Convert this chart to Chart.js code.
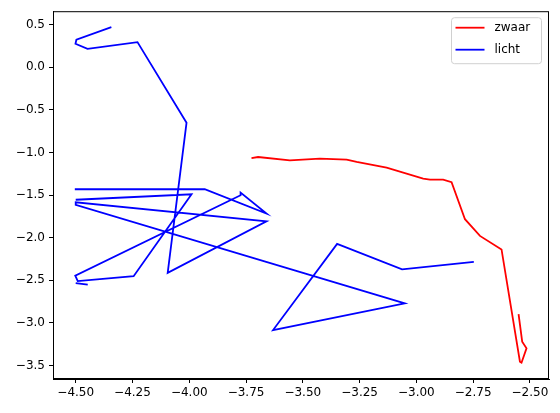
<!DOCTYPE html>
<html>
<head>
<meta charset="utf-8">
<script src="https://cdn.jsdelivr.net/npm/chart.js@4.4.1/dist/chart.umd.min.js"></script>
<style>
  html, body { margin: 0; padding: 0; background: #fff; }
  #wrap { width: 560px; height: 413px; }
</style>
</head>
<body>
<div id="wrap"><canvas id="chart" width="560" height="413"></canvas></div>
<script>
// Gegevens
var zwaarX = [-3.726, -3.697, -3.557, -3.425, -3.307, -3.263, -3.131, -2.970, -2.940, -2.882,
              -2.845, -2.786, -2.720, -2.625, -2.544, -2.537, -2.515, -2.534, -2.550];
var zwaarY = [-1.066, -1.054, -1.093, -1.073, -1.084, -1.112, -1.178, -1.307, -1.318, -1.318,
              -1.350, -1.783, -1.979, -2.138, -3.454, -3.466, -3.297, -3.220, -2.896];

// null = onderbreking in de lijn
var lichtX = [-2.747, -3.063, -3.349, -3.631, -3.051, -4.500, -4.500, -3.660, -4.095, -4.012,
              -4.228, -4.448, -4.501, -4.497, -4.343,
              null,
              -4.504, -3.932, -3.660, -3.774, -3.774, -4.502, -4.491, -4.245, -3.990, -4.500,
              null,
              -4.500, -4.447];
var lichtY = [-2.283, -2.372, -2.073, -3.083, -2.770, -1.615, -1.585, -1.807, -2.412, -0.651,
              0.293, 0.215, 0.274, 0.321, 0.470,
              null,
              -1.432, -1.432, -1.717, -1.471, -1.502, -2.445, -2.509, -2.451, -1.491, -1.555,
              null,
              -2.532, -2.550];

var xTicks = [-4.5, -4.25, -4.0, -3.75, -3.5, -3.25, -3.0, -2.75, -2.5];
var yTicks = [0.5, 0.0, -0.5, -1.0, -1.5, -2.0, -2.5, -3.0, -3.5];

function pts(xs, ys) {
  return xs.map(function (x, i) { return { x: x, y: ys[i] }; });
}
function minus(s) { return s.replace('-', '\u2212'); }

var FONT = { family: 'DejaVu Sans', size: 12 };

// kader rond het plotgebied
var framePlugin = {
  id: 'frame',
  afterDraw: function (chart) {
    var a = chart.chartArea, ctx = chart.ctx;
    ctx.save();
    ctx.strokeStyle = '#000';
    ctx.lineWidth = 1;
    ctx.strokeRect(a.left + 0.5, a.top + 0.5, a.right - a.left - 1, a.bottom - a.top - 1);
    ctx.restore();
  }
};

// legenda rechtsboven, in matplotlib-stijl
var legendPlugin = {
  id: 'mplLegend',
  afterDraw: function (chart) {
    var ctx = chart.ctx, a = chart.chartArea;
    var ds = chart.data.datasets;
    var w = 90, rowH = 22, h = 46;
    var x0 = a.right - 7.5 - w, y0 = a.top + 6.5;
    ctx.save();
    ctx.fillStyle = 'rgba(255,255,255,0.8)';
    ctx.strokeStyle = '#d0d0d0';
    ctx.lineWidth = 1;
    ctx.beginPath();
    ctx.roundRect(x0, y0, w, h, 3);
    ctx.fill();
    ctx.stroke();
    ctx.font = '12px "DejaVu Sans"';
    ctx.textBaseline = 'middle';
    ds.forEach(function (d, i) {
      var cy = y0 + 10 + i * rowH;
      ctx.strokeStyle = d.borderColor;
      ctx.lineWidth = 1.8;
      ctx.beginPath();
      ctx.moveTo(x0 + 4, cy);
      ctx.lineTo(x0 + 33, cy);
      ctx.stroke();
      ctx.fillStyle = '#000';
      ctx.fillText(d.label, x0 + 43, cy);
    });
    ctx.restore();
  }
};

new Chart(document.getElementById('chart'), {
  type: 'line',
  data: {
    datasets: [
      { label: 'zwaar', data: pts(zwaarX, zwaarY), borderColor: '#ff0000', borderWidth: 1.8,
        pointRadius: 0, tension: 0, fill: false },
      { label: 'licht', data: pts(lichtX, lichtY), borderColor: '#0000ff', borderWidth: 1.8,
        pointRadius: 0, tension: 0, fill: false, spanGaps: false }
    ]
  },
  options: {
    responsive: false,
    animation: false,
    layout: { padding: { top: 11, right: 11, left: 0, bottom: 0 } },
    plugins: { legend: { display: false }, tooltip: { enabled: false } },
    scales: {
      x: {
        type: 'linear',
        min: -4.6, max: -2.416,
        afterBuildTicks: function (s) { s.ticks = xTicks.map(function (v) { return { value: v }; }); },
        afterFit: function (s) { s.height = 34; },
        ticks: { color: '#000', font: FONT, padding: 3, maxRotation: 0, autoSkip: false,
                 callback: function (v) { return minus(v.toFixed(2)); } },
        grid: { drawOnChartArea: false, drawTicks: true, tickLength: 4, color: '#000' },
        border: { display: true, color: '#000', width: 1 }
      },
      y: {
        type: 'linear',
        min: -3.657, max: 0.656,
        afterBuildTicks: function (s) { s.ticks = yTicks.map(function (v) { return { value: v }; }); },
        afterFit: function (s) { s.width = 53; },
        ticks: { color: '#000', font: FONT, padding: 4, autoSkip: false,
                 callback: function (v) { return minus(v.toFixed(1)); } },
        grid: { drawOnChartArea: false, drawTicks: true, tickLength: 4, color: '#000' },
        border: { display: true, color: '#000', width: 1 }
      }
    }
  },
  plugins: [framePlugin, legendPlugin]
});
</script>
</body>
</html>
